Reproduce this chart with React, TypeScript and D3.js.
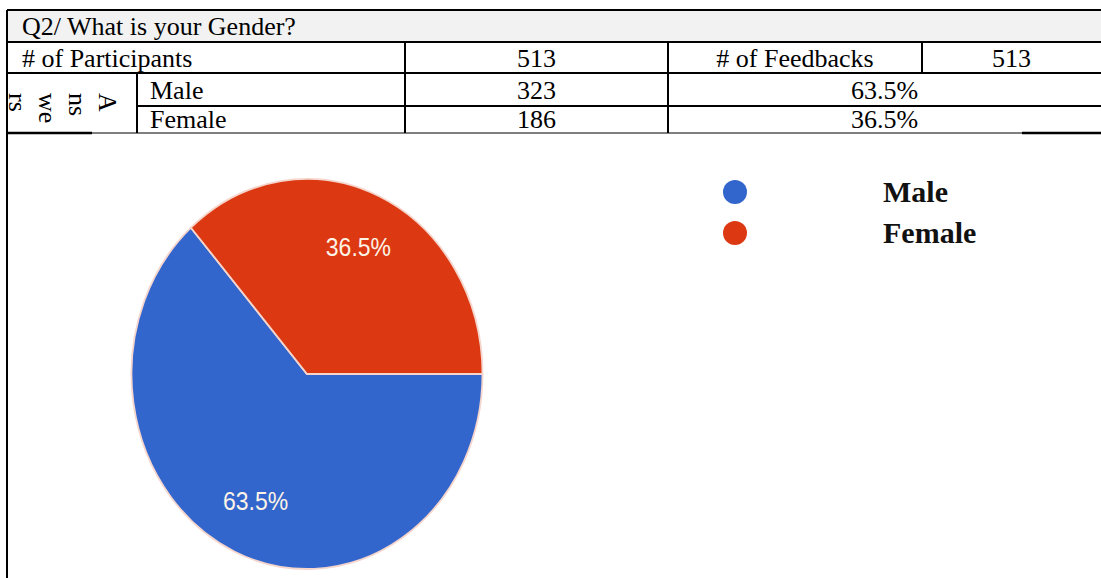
import React from "react";
import * as d3 from "d3";

const title = "Q2/ What is your Gender?";
const participantsLabel = "# of Participants";
const participants = 513;
const feedbacksLabel = "# of Feedbacks";
const feedbacks = 513;
const answersLines = ["A", "ns", "we", "rs"];
const categories = ["Male", "Female"];
const counts = [323, 186];
const percents = [63.5, 36.5];
const colors = ["#3366cc", "#dc3912"];

const W = 1101;
const H = 578;

export default function App() {
  const serif = "'Liberation Serif', 'Times New Roman', serif";
  const fs = 26;
  // table geometry
  const L = 7, R = 1101;
  const yTop = 10, y1 = 42, y2 = 73, y3 = 106, y4 = 133;
  const xA = 137, xB = 405, xC = 668, xD = 922;

  const pie = d3
    .pie<number>()
    .sort(null)
    .startAngle(Math.PI / 2)
    .endAngle(Math.PI / 2 + 2 * Math.PI)(percents);
  const rx = 175.5;
  const ry = 195;
  const cx = 307;
  const cy = 374;
  const arc = d3.arc<d3.PieArcDatum<number>>().innerRadius(0).outerRadius(rx);
  const labelArc = d3.arc<d3.PieArcDatum<number>>().innerRadius(125).outerRadius(125);

  const rowBase = [99, 128];

  return (
    <svg
      width={W}
      height={H}
      style={{ position: "fixed", left: 0, top: 0, background: "#fff" }}
      fontFamily={serif}
    >
      <rect x={0} y={0} width={W} height={H} fill="#fff" />
      {/* title row background */}
      <rect x={L} y={yTop} width={R - L} height={y1 - yTop} fill="#f2f2f2" />
      {/* horizontal lines */}
      <g stroke="#000" strokeWidth={2}>
        <line x1={L} x2={R} y1={yTop} y2={yTop} />
        <line x1={L} x2={R} y1={y1} y2={y1} />
        <line x1={L} x2={R} y1={y2} y2={y2} />
        <line x1={xA} x2={R} y1={y3} y2={y3} />
        <line x1={L} x2={R} y1={y4} y2={y4} strokeWidth={1.2} />
        <line x1={L} x2={92} y1={y4} y2={y4} strokeWidth={2.5} />
        <line x1={1022} x2={R} y1={y4} y2={y4} strokeWidth={2.5} />
        {/* verticals */}
        <line x1={L} x2={L} y1={yTop} y2={H} />
        <line x1={xA} x2={xA} y1={y2} y2={y4} />
        <line x1={xB} x2={xB} y1={y1} y2={y4} />
        <line x1={xC} x2={xC} y1={y1} y2={y4} />
        <line x1={xD} x2={xD} y1={y1} y2={y2} />
      </g>
      <g fontSize={fs} fill="#000">
        <text x={22} y={35}>{title}</text>
        <text x={22} y={67}>{participantsLabel}</text>
        <text x={(xB + xC) / 2} y={67} textAnchor="middle">{participants}</text>
        <text x={(xC + xD) / 2} y={67} textAnchor="middle">{feedbacksLabel}</text>
        <text x={(xD + R) / 2} y={67} textAnchor="middle">{feedbacks}</text>
        {categories.map((c, i) => (
          <g key={c}>
            <text x={150} y={rowBase[i]}>{c}</text>
            <text x={(xB + xC) / 2} y={rowBase[i]} textAnchor="middle">{counts[i]}</text>
            <text x={(xC + R) / 2} y={rowBase[i]} textAnchor="middle">{percents[i].toFixed(1)}%</text>
          </g>
        ))}
      </g>
      {/* rotated "Answers" label, wrapped in vertical lines */}
      <clipPath id="ansclip">
        <rect x={L + 1} y={y2 + 1} width={xA - L - 2} height={y4 - y2 - 1} />
      </clipPath>
      <g clipPath="url(#ansclip)" fontSize={fs}>
        {answersLines.map((t, i) => (
          <text
            key={t}
            transform={`translate(${99 - i * 30},${93}) rotate(90)`}
            x={0}
            y={0}
          >
            {t}
          </text>
        ))}
      </g>

      {/* pie */}
      <g transform={`translate(${cx},${cy}) scale(1,${ry / rx})`}>
        {pie.map((d, i) => (
          <path
            key={categories[i]}
            d={arc(d) || ""}
            fill={colors[i]}
            stroke="#f5d5cc"
            strokeWidth={1.8}
            vectorEffect="non-scaling-stroke"
          />
        ))}
        {pie.map((d, i) => {
          const [lx, ly] = labelArc.centroid(d);
          return (
            <text
              key={"l" + i}
              x={lx}
              y={ly}
              textAnchor="middle"
              dominantBaseline="central"
              fontFamily="'Liberation Sans', Arial, sans-serif"
              fontSize={23}
              fill="#fdf3e6"
            >
              {percents[i].toFixed(1)}%
            </text>
          );
        })}
      </g>

      {/* legend */}
      {categories.map((c, i) => (
        <g key={"lg" + c}>
          <circle cx={735} cy={192 + i * 41} r={12} fill={colors[i]} />
          <text x={883} y={202 + i * 41} fontSize={30} fontWeight="bold" fill="#111">
            {c}
          </text>
        </g>
      ))}
    </svg>
  );
}
